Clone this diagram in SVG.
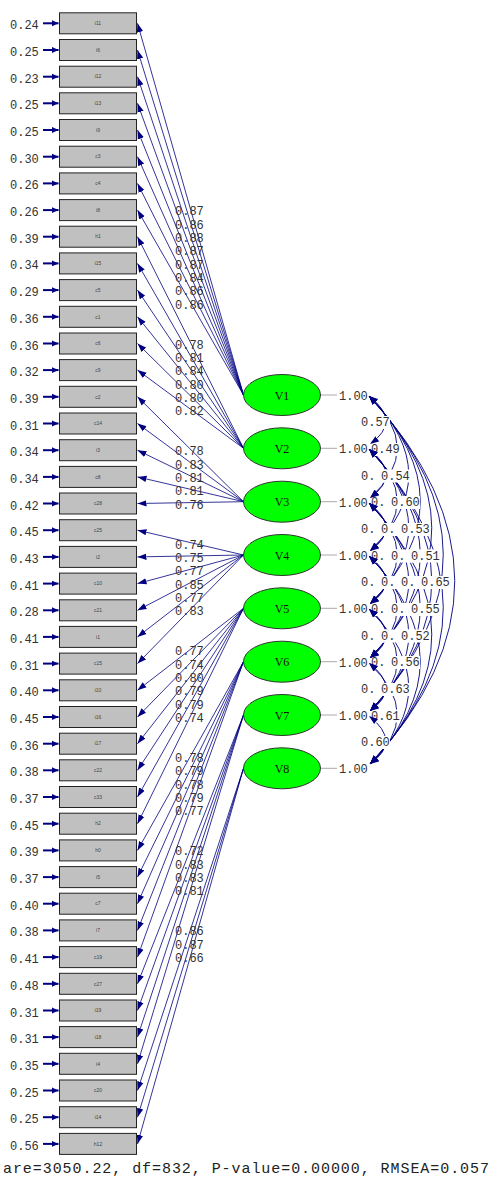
<svg xmlns="http://www.w3.org/2000/svg" xmlns:xlink="http://www.w3.org/1999/xlink" width="492" height="1178" viewBox="0 0 492 1178">
<style>
.box{fill:#c0c0c0;stroke:#222;stroke-width:1}
.bt{font-family:"Liberation Sans",sans-serif;font-size:5px;fill:#444;text-anchor:middle}
.num{font-family:"Liberation Mono","DejaVu Sans Mono",monospace;font-size:12px;fill:#333}
.ld{stroke:#000080;stroke-width:0.8;fill:none;marker-end:url(#ah)}
.er{stroke:#000080;stroke-width:2;fill:none;marker-end:url(#ahe)}
.ell{fill:#00ff00;stroke:#333;stroke-width:1}
.vt{font-family:"Liberation Serif",serif;font-size:12px;fill:#111;text-anchor:middle}
.arc{fill:none;stroke:#000080;stroke-width:0.9}
.heads{fill:none;stroke:none;marker-start:url(#ah2);marker-end:url(#ah2)}
.bg{fill:#fff}
.gl{stroke:#aaa;stroke-width:1}
</style>
<defs>
<marker id="ah" markerWidth="10" markerHeight="8" refX="9" refY="4" orient="auto" markerUnits="userSpaceOnUse"><path d="M0,0.8 L9,4 L0,7.2 z" fill="#000080"/></marker>
<marker id="ahe" markerWidth="8" markerHeight="8" refX="7" refY="4" orient="auto" markerUnits="userSpaceOnUse"><path d="M0,0.8 L7,4 L0,7.2 z" fill="#000080"/></marker>
<marker id="ah2" markerWidth="10" markerHeight="8" refX="9" refY="4" orient="auto-start-reverse" markerUnits="userSpaceOnUse"><path d="M0,0.8 L9,4 L0,7.2 z" fill="#000080"/></marker>
<path id="c12" d="M369,396 Q402,421.5 370,444"/>
<path id="c23" d="M369,449 Q402,475 370,498"/>
<path id="c34" d="M369,503 Q402,528.5 370,551"/>
<path id="c45" d="M369,556 Q402,581.5 370,604"/>
<path id="c56" d="M369,609 Q402,635 370,658"/>
<path id="c67" d="M369,663 Q402,688.5 370,711"/>
<path id="c78" d="M369,716 Q402,741.5 370,764"/>
<path id="c13" d="M369,396 Q425,448.5 370,498"/>
<path id="c24" d="M369,449 Q425,501.5 370,551"/>
<path id="c35" d="M369,503 Q425,555 370,604"/>
<path id="c46" d="M369,556 Q425,608.5 370,658"/>
<path id="c57" d="M369,609 Q425,661.5 370,711"/>
<path id="c68" d="M369,663 Q425,715 370,764"/>
<path id="c14" d="M369,396 Q448,475 370,551"/>
<path id="c25" d="M369,449 Q448,528 370,604"/>
<path id="c36" d="M369,503 Q448,582 370,658"/>
<path id="c47" d="M369,556 Q448,635 370,711"/>
<path id="c58" d="M369,609 Q448,688 370,764"/>
<path id="c15" d="M369,396 Q471,501.5 370,604"/>
<path id="c26" d="M369,449 Q471,555 370,658"/>
<path id="c37" d="M369,503 Q471,608.5 370,711"/>
<path id="c48" d="M369,556 Q471,662 370,764"/>
<path id="c16" d="M369,396 Q494,528.5 370,658"/>
<path id="c27" d="M369,449 Q494,581.5 370,711"/>
<path id="c38" d="M369,503 Q494,635 370,764"/>
<path id="c17" d="M369,396 Q517,555 370,711"/>
<path id="c28" d="M369,449 Q517,608 370,764"/>
<path id="c18" d="M369,396 Q540,581.5 370,764"/>
</defs>
<rect width="492" height="1178" fill="#fff"/>

<g id="connectors">
<!-- V1 -->
<line class="ld" x1="243.5" y1="395" x2="137.5" y2="23.3"/>
<line class="ld" x1="243.5" y1="395" x2="137.5" y2="50"/>
<line class="ld" x1="243.5" y1="395" x2="137.5" y2="76.7"/>
<line class="ld" x1="243.5" y1="395" x2="137.5" y2="103.3"/>
<line class="ld" x1="243.5" y1="395" x2="137.5" y2="130"/>
<line class="ld" x1="243.5" y1="395" x2="137.5" y2="156.7"/>
<line class="ld" x1="243.5" y1="395" x2="137.5" y2="183.4"/>
<line class="ld" x1="243.5" y1="395" x2="137.5" y2="210.1"/>
<!-- V2 -->
<line class="ld" x1="243.5" y1="448.3" x2="137.5" y2="236.7"/>
<line class="ld" x1="243.5" y1="448.3" x2="137.5" y2="263.4"/>
<line class="ld" x1="243.5" y1="448.3" x2="137.5" y2="290.1"/>
<line class="ld" x1="243.5" y1="448.3" x2="137.5" y2="316.8"/>
<line class="ld" x1="243.5" y1="448.3" x2="137.5" y2="343.5"/>
<line class="ld" x1="243.5" y1="448.3" x2="137.5" y2="370.1"/>
<!-- V3 -->
<line class="ld" x1="243.5" y1="501.7" x2="137.5" y2="396.8"/>
<line class="ld" x1="243.5" y1="501.7" x2="137.5" y2="423.5"/>
<line class="ld" x1="243.5" y1="501.7" x2="137.5" y2="450.2"/>
<line class="ld" x1="243.5" y1="501.7" x2="137.5" y2="476.9"/>
<line class="ld" x1="243.5" y1="501.7" x2="137.5" y2="503.5"/>
<!-- V4 -->
<line class="ld" x1="243.5" y1="555" x2="137.5" y2="530.2"/>
<line class="ld" x1="243.5" y1="555" x2="137.5" y2="556.9"/>
<line class="ld" x1="243.5" y1="555" x2="137.5" y2="583.6"/>
<line class="ld" x1="243.5" y1="555" x2="137.5" y2="610.3"/>
<line class="ld" x1="243.5" y1="555" x2="137.5" y2="636.9"/>
<line class="ld" x1="243.5" y1="555" x2="137.5" y2="663.6"/>
<!-- V5 -->
<line class="ld" x1="243.5" y1="608.3" x2="137.5" y2="690.3"/>
<line class="ld" x1="243.5" y1="608.3" x2="137.5" y2="717"/>
<line class="ld" x1="243.5" y1="608.3" x2="137.5" y2="743.7"/>
<line class="ld" x1="243.5" y1="608.3" x2="137.5" y2="770.3"/>
<line class="ld" x1="243.5" y1="608.3" x2="137.5" y2="797"/>
<line class="ld" x1="243.5" y1="608.3" x2="137.5" y2="823.7"/>
<!-- V6 -->
<line class="ld" x1="243.5" y1="661.7" x2="137.5" y2="850.4"/>
<line class="ld" x1="243.5" y1="661.7" x2="137.5" y2="877.1"/>
<line class="ld" x1="243.5" y1="661.7" x2="137.5" y2="903.7"/>
<line class="ld" x1="243.5" y1="661.7" x2="137.5" y2="930.4"/>
<line class="ld" x1="243.5" y1="661.7" x2="137.5" y2="957.1"/>
<!-- V7 -->
<line class="ld" x1="243.5" y1="715" x2="137.5" y2="983.8"/>
<line class="ld" x1="243.5" y1="715" x2="137.5" y2="1010.5"/>
<line class="ld" x1="243.5" y1="715" x2="137.5" y2="1037.1"/>
<line class="ld" x1="243.5" y1="715" x2="137.5" y2="1063.8"/>
<!-- V8 -->
<line class="ld" x1="243.5" y1="768.3" x2="137.5" y2="1090.5"/>
<line class="ld" x1="243.5" y1="768.3" x2="137.5" y2="1117.2"/>
<line class="ld" x1="243.5" y1="768.3" x2="137.5" y2="1143.9"/>
<!-- error arrows -->
<line class="er" x1="43" y1="23.3" x2="58.5" y2="23.3"/>
<line class="er" x1="43" y1="50" x2="58.5" y2="50"/>
<line class="er" x1="43" y1="76.7" x2="58.5" y2="76.7"/>
<line class="er" x1="43" y1="103.3" x2="58.5" y2="103.3"/>
<line class="er" x1="43" y1="130" x2="58.5" y2="130"/>
<line class="er" x1="43" y1="156.7" x2="58.5" y2="156.7"/>
<line class="er" x1="43" y1="183.4" x2="58.5" y2="183.4"/>
<line class="er" x1="43" y1="210.1" x2="58.5" y2="210.1"/>
<line class="er" x1="43" y1="236.7" x2="58.5" y2="236.7"/>
<line class="er" x1="43" y1="263.4" x2="58.5" y2="263.4"/>
<line class="er" x1="43" y1="290.1" x2="58.5" y2="290.1"/>
<line class="er" x1="43" y1="316.8" x2="58.5" y2="316.8"/>
<line class="er" x1="43" y1="343.5" x2="58.5" y2="343.5"/>
<line class="er" x1="43" y1="370.1" x2="58.5" y2="370.1"/>
<line class="er" x1="43" y1="396.8" x2="58.5" y2="396.8"/>
<line class="er" x1="43" y1="423.5" x2="58.5" y2="423.5"/>
<line class="er" x1="43" y1="450.2" x2="58.5" y2="450.2"/>
<line class="er" x1="43" y1="476.9" x2="58.5" y2="476.9"/>
<line class="er" x1="43" y1="503.5" x2="58.5" y2="503.5"/>
<line class="er" x1="43" y1="530.2" x2="58.5" y2="530.2"/>
<line class="er" x1="43" y1="556.9" x2="58.5" y2="556.9"/>
<line class="er" x1="43" y1="583.6" x2="58.5" y2="583.6"/>
<line class="er" x1="43" y1="610.3" x2="58.5" y2="610.3"/>
<line class="er" x1="43" y1="636.9" x2="58.5" y2="636.9"/>
<line class="er" x1="43" y1="663.6" x2="58.5" y2="663.6"/>
<line class="er" x1="43" y1="690.3" x2="58.5" y2="690.3"/>
<line class="er" x1="43" y1="717" x2="58.5" y2="717"/>
<line class="er" x1="43" y1="743.7" x2="58.5" y2="743.7"/>
<line class="er" x1="43" y1="770.3" x2="58.5" y2="770.3"/>
<line class="er" x1="43" y1="797" x2="58.5" y2="797"/>
<line class="er" x1="43" y1="823.7" x2="58.5" y2="823.7"/>
<line class="er" x1="43" y1="850.4" x2="58.5" y2="850.4"/>
<line class="er" x1="43" y1="877.1" x2="58.5" y2="877.1"/>
<line class="er" x1="43" y1="903.7" x2="58.5" y2="903.7"/>
<line class="er" x1="43" y1="930.4" x2="58.5" y2="930.4"/>
<line class="er" x1="43" y1="957.1" x2="58.5" y2="957.1"/>
<line class="er" x1="43" y1="983.8" x2="58.5" y2="983.8"/>
<line class="er" x1="43" y1="1010.5" x2="58.5" y2="1010.5"/>
<line class="er" x1="43" y1="1037.1" x2="58.5" y2="1037.1"/>
<line class="er" x1="43" y1="1063.8" x2="58.5" y2="1063.8"/>
<line class="er" x1="43" y1="1090.5" x2="58.5" y2="1090.5"/>
<line class="er" x1="43" y1="1117.2" x2="58.5" y2="1117.2"/>
<line class="er" x1="43" y1="1143.9" x2="58.5" y2="1143.9"/>
<!-- variance lines -->
<line class="gl" x1="320" y1="395" x2="337" y2="395"/>
<line class="gl" x1="320" y1="448.3" x2="337" y2="448.3"/>
<line class="gl" x1="320" y1="501.7" x2="337" y2="501.7"/>
<line class="gl" x1="320" y1="555" x2="337" y2="555"/>
<line class="gl" x1="320" y1="608.3" x2="337" y2="608.3"/>
<line class="gl" x1="320" y1="661.7" x2="337" y2="661.7"/>
<line class="gl" x1="320" y1="715" x2="337" y2="715"/>
<line class="gl" x1="320" y1="768.3" x2="337" y2="768.3"/>
<!-- correlation arcs -->
<g class="arc">
<use xlink:href="#c12"/><use xlink:href="#c23"/><use xlink:href="#c34"/><use xlink:href="#c45"/><use xlink:href="#c56"/><use xlink:href="#c67"/><use xlink:href="#c78"/>
<use xlink:href="#c13"/><use xlink:href="#c24"/><use xlink:href="#c35"/><use xlink:href="#c46"/><use xlink:href="#c57"/><use xlink:href="#c68"/>
<use xlink:href="#c14"/><use xlink:href="#c25"/><use xlink:href="#c36"/><use xlink:href="#c47"/><use xlink:href="#c58"/>
<use xlink:href="#c15"/><use xlink:href="#c26"/><use xlink:href="#c37"/><use xlink:href="#c48"/>
<use xlink:href="#c16"/><use xlink:href="#c27"/><use xlink:href="#c38"/>
<use xlink:href="#c17"/><use xlink:href="#c28"/>
<use xlink:href="#c18"/>
</g>
</g>

<g id="loading-labels" class="num">
<text x="175" y="215">0.87</text><text x="175" y="228.5">0.86</text><text x="175" y="242">0.88</text><text x="175" y="255">0.87</text><text x="175" y="268.5">0.87</text><text x="175" y="282">0.84</text><text x="175" y="295">0.86</text><text x="175" y="308.5">0.86</text>
<text x="175" y="348.5">0.78</text><text x="175" y="362">0.81</text><text x="175" y="375">0.84</text><text x="175" y="388.5">0.80</text><text x="175" y="402">0.80</text><text x="175" y="415">0.82</text>
<text x="175" y="455.3">0.78</text><text x="175" y="468.6">0.83</text><text x="175" y="482">0.81</text><text x="175" y="495.3">0.81</text><text x="175" y="508.6">0.76</text>
<text x="175" y="548.6">0.74</text><text x="175" y="562">0.75</text><text x="175" y="575.3">0.77</text><text x="175" y="588.7">0.85</text><text x="175" y="602">0.77</text><text x="175" y="615.3">0.83</text>
<text x="175" y="655.3">0.77</text><text x="175" y="668.7">0.74</text><text x="175" y="682">0.80</text><text x="175" y="695.3">0.79</text><text x="175" y="708.7">0.79</text><text x="175" y="722">0.74</text>
<text x="175" y="762">0.78</text><text x="175" y="775.4">0.79</text><text x="175" y="788.7">0.78</text><text x="175" y="802">0.79</text><text x="175" y="815.4">0.77</text>
<text x="175" y="855.4">0.72</text><text x="175" y="868.7">0.83</text><text x="175" y="882">0.83</text><text x="175" y="895.4">0.81</text>
<text x="175" y="935.4">0.86</text><text x="175" y="948.7">0.87</text><text x="175" y="962.1">0.66</text>
</g>

<g id="error-labels" class="num">
<text x="10" y="29.3">0.24</text><text x="10" y="56">0.25</text><text x="10" y="82.7">0.23</text><text x="10" y="109.3">0.25</text><text x="10" y="136">0.25</text><text x="10" y="162.7">0.30</text><text x="10" y="189.4">0.26</text><text x="10" y="216.1">0.26</text><text x="10" y="242.7">0.39</text><text x="10" y="269.4">0.34</text><text x="10" y="296.1">0.29</text><text x="10" y="322.8">0.36</text><text x="10" y="349.5">0.36</text><text x="10" y="376.1">0.32</text><text x="10" y="402.8">0.39</text><text x="10" y="429.5">0.31</text><text x="10" y="456.2">0.34</text><text x="10" y="482.9">0.34</text><text x="10" y="509.5">0.42</text><text x="10" y="536.2">0.45</text><text x="10" y="562.9">0.43</text><text x="10" y="589.6">0.41</text><text x="10" y="616.3">0.28</text><text x="10" y="642.9">0.41</text><text x="10" y="669.6">0.31</text><text x="10" y="696.3">0.40</text><text x="10" y="723">0.45</text><text x="10" y="749.7">0.36</text><text x="10" y="776.3">0.38</text><text x="10" y="803">0.37</text><text x="10" y="829.7">0.45</text><text x="10" y="856.4">0.39</text><text x="10" y="883.1">0.37</text><text x="10" y="909.7">0.40</text><text x="10" y="936.4">0.38</text><text x="10" y="963.1">0.41</text><text x="10" y="989.8">0.48</text><text x="10" y="1016.5">0.31</text><text x="10" y="1043.1">0.31</text><text x="10" y="1069.8">0.35</text><text x="10" y="1096.5">0.25</text><text x="10" y="1123.2">0.25</text><text x="10" y="1149.9">0.56</text>
</g>

<g id="indicators">
<g id="b0"><rect class="box" x="59.5" y="12.8" width="77" height="21"/><text class="bt" x="98" y="25">i11</text></g>
<g id="b1"><rect class="box" x="59.5" y="39.5" width="77" height="21"/><text class="bt" x="98" y="51.7">i6</text></g>
<g id="b2"><rect class="box" x="59.5" y="66.2" width="77" height="21"/><text class="bt" x="98" y="78.4">i12</text></g>
<g id="b3"><rect class="box" x="59.5" y="92.8" width="77" height="21"/><text class="bt" x="98" y="105">i13</text></g>
<g id="b4"><rect class="box" x="59.5" y="119.5" width="77" height="21"/><text class="bt" x="98" y="131.7">i9</text></g>
<g id="b5"><rect class="box" x="59.5" y="146.2" width="77" height="21"/><text class="bt" x="98" y="158.4">c3</text></g>
<g id="b6"><rect class="box" x="59.5" y="172.9" width="77" height="21"/><text class="bt" x="98" y="185.1">c4</text></g>
<g id="b7"><rect class="box" x="59.5" y="199.6" width="77" height="21"/><text class="bt" x="98" y="211.8">i8</text></g>
<g id="b8"><rect class="box" x="59.5" y="226.2" width="77" height="21"/><text class="bt" x="98" y="238.4">h1</text></g>
<g id="b9"><rect class="box" x="59.5" y="252.9" width="77" height="21"/><text class="bt" x="98" y="265.1">i15</text></g>
<g id="b10"><rect class="box" x="59.5" y="279.6" width="77" height="21"/><text class="bt" x="98" y="291.8">c5</text></g>
<g id="b11"><rect class="box" x="59.5" y="306.3" width="77" height="21"/><text class="bt" x="98" y="318.5">c1</text></g>
<g id="b12"><rect class="box" x="59.5" y="333" width="77" height="21"/><text class="bt" x="98" y="345.2">c6</text></g>
<g id="b13"><rect class="box" x="59.5" y="359.6" width="77" height="21"/><text class="bt" x="98" y="371.8">c9</text></g>
<g id="b14"><rect class="box" x="59.5" y="386.3" width="77" height="21"/><text class="bt" x="98" y="398.5">c2</text></g>
<g id="b15"><rect class="box" x="59.5" y="413" width="77" height="21"/><text class="bt" x="98" y="425.2">c14</text></g>
<g id="b16"><rect class="box" x="59.5" y="439.7" width="77" height="21"/><text class="bt" x="98" y="451.9">i3</text></g>
<g id="b17"><rect class="box" x="59.5" y="466.4" width="77" height="21"/><text class="bt" x="98" y="478.6">c8</text></g>
<g id="b18"><rect class="box" x="59.5" y="493" width="77" height="21"/><text class="bt" x="98" y="505.2">c28</text></g>
<g id="b19"><rect class="box" x="59.5" y="519.7" width="77" height="21"/><text class="bt" x="98" y="531.9">c25</text></g>
<g id="b20"><rect class="box" x="59.5" y="546.4" width="77" height="21"/><text class="bt" x="98" y="558.6">i2</text></g>
<g id="b21"><rect class="box" x="59.5" y="573.1" width="77" height="21"/><text class="bt" x="98" y="585.3">c10</text></g>
<g id="b22"><rect class="box" x="59.5" y="599.8" width="77" height="21"/><text class="bt" x="98" y="612">c21</text></g>
<g id="b23"><rect class="box" x="59.5" y="626.4" width="77" height="21"/><text class="bt" x="98" y="638.6">i1</text></g>
<g id="b24"><rect class="box" x="59.5" y="653.1" width="77" height="21"/><text class="bt" x="98" y="665.3">c15</text></g>
<g id="b25"><rect class="box" x="59.5" y="679.8" width="77" height="21"/><text class="bt" x="98" y="692">i10</text></g>
<g id="b26"><rect class="box" x="59.5" y="706.5" width="77" height="21"/><text class="bt" x="98" y="718.7">i16</text></g>
<g id="b27"><rect class="box" x="59.5" y="733.2" width="77" height="21"/><text class="bt" x="98" y="745.4">i17</text></g>
<g id="b28"><rect class="box" x="59.5" y="759.8" width="77" height="21"/><text class="bt" x="98" y="772">c22</text></g>
<g id="b29"><rect class="box" x="59.5" y="786.5" width="77" height="21"/><text class="bt" x="98" y="798.7">c33</text></g>
<g id="b30"><rect class="box" x="59.5" y="813.2" width="77" height="21"/><text class="bt" x="98" y="825.4">h2</text></g>
<g id="b31"><rect class="box" x="59.5" y="839.9" width="77" height="21"/><text class="bt" x="98" y="852.1">h0</text></g>
<g id="b32"><rect class="box" x="59.5" y="866.6" width="77" height="21"/><text class="bt" x="98" y="878.8">i5</text></g>
<g id="b33"><rect class="box" x="59.5" y="893.2" width="77" height="21"/><text class="bt" x="98" y="905.4">c7</text></g>
<g id="b34"><rect class="box" x="59.5" y="919.9" width="77" height="21"/><text class="bt" x="98" y="932.1">i7</text></g>
<g id="b35"><rect class="box" x="59.5" y="946.6" width="77" height="21"/><text class="bt" x="98" y="958.8">c19</text></g>
<g id="b36"><rect class="box" x="59.5" y="973.3" width="77" height="21"/><text class="bt" x="98" y="985.5">c27</text></g>
<g id="b37"><rect class="box" x="59.5" y="1000" width="77" height="21"/><text class="bt" x="98" y="1012.2">i19</text></g>
<g id="b38"><rect class="box" x="59.5" y="1026.6" width="77" height="21"/><text class="bt" x="98" y="1038.8">i18</text></g>
<g id="b39"><rect class="box" x="59.5" y="1053.3" width="77" height="21"/><text class="bt" x="98" y="1065.5">i4</text></g>
<g id="b40"><rect class="box" x="59.5" y="1080" width="77" height="21"/><text class="bt" x="98" y="1092.2">c20</text></g>
<g id="b41"><rect class="box" x="59.5" y="1106.7" width="77" height="21"/><text class="bt" x="98" y="1118.9">i14</text></g>
<g id="b42"><rect class="box" x="59.5" y="1133.4" width="77" height="21"/><text class="bt" x="98" y="1145.6">h12</text></g>
</g>

<g id="factors">
<g id="V1"><ellipse class="ell" cx="282" cy="395" rx="38.5" ry="20.5"/><text class="vt" x="282" y="399.5">V1</text></g>
<g id="V2"><ellipse class="ell" cx="282" cy="448.3" rx="38.5" ry="20.5"/><text class="vt" x="282" y="452.8">V2</text></g>
<g id="V3"><ellipse class="ell" cx="282" cy="501.7" rx="38.5" ry="20.5"/><text class="vt" x="282" y="506.2">V3</text></g>
<g id="V4"><ellipse class="ell" cx="282" cy="555" rx="38.5" ry="20.5"/><text class="vt" x="282" y="559.5">V4</text></g>
<g id="V5"><ellipse class="ell" cx="282" cy="608.3" rx="38.5" ry="20.5"/><text class="vt" x="282" y="612.8">V5</text></g>
<g id="V6"><ellipse class="ell" cx="282" cy="661.7" rx="38.5" ry="20.5"/><text class="vt" x="282" y="666.2">V6</text></g>
<g id="V7"><ellipse class="ell" cx="282" cy="715" rx="38.5" ry="20.5"/><text class="vt" x="282" y="719.5">V7</text></g>
<g id="V8"><ellipse class="ell" cx="282" cy="768.3" rx="38.5" ry="20.5"/><text class="vt" x="282" y="772.8">V8</text></g>
</g>

<g id="variance-labels" class="num">
<text x="339" y="400">1.00</text><text x="339" y="453.3">1.00</text><text x="339" y="506.7">1.00</text><text x="339" y="560">1.00</text><text x="339" y="613.3">1.00</text><text x="339" y="666.7">1.00</text><text x="339" y="720">1.00</text><text x="339" y="773.3">1.00</text>
</g>

<g id="correlation-labels" class="num">
<rect class="bg" x="359" y="416" width="31" height="13"/><text x="361" y="426">0.57</text>
<rect class="bg" x="369" y="443" width="31" height="13"/><text x="371" y="453">0.49</text>
<rect class="bg" x="359" y="469.5" width="31" height="13"/><text x="361" y="479.5">0.</text>
<rect class="bg" x="379" y="469.5" width="31" height="13"/><text x="381" y="479.5">0.54</text>
<rect class="bg" x="369" y="496" width="31" height="13"/><text x="371" y="506">0.</text>
<rect class="bg" x="389" y="496" width="31" height="13"/><text x="391" y="506">0.60</text>
<rect class="bg" x="359" y="523" width="31" height="13"/><text x="361" y="533">0.</text>
<rect class="bg" x="379" y="523" width="31" height="13"/><text x="381" y="533">0.</text>
<rect class="bg" x="399" y="523" width="31" height="13"/><text x="401" y="533">0.53</text>
<rect class="bg" x="369" y="549.5" width="31" height="13"/><text x="371" y="559.5">0.</text>
<rect class="bg" x="389" y="549.5" width="31" height="13"/><text x="391" y="559.5">0.</text>
<rect class="bg" x="409" y="549.5" width="31" height="13"/><text x="411" y="559.5">0.51</text>
<rect class="bg" x="359" y="576" width="31" height="13"/><text x="361" y="586">0.</text>
<rect class="bg" x="379" y="576" width="31" height="13"/><text x="381" y="586">0.</text>
<rect class="bg" x="399" y="576" width="31" height="13"/><text x="401" y="586">0.</text>
<rect class="bg" x="419" y="576" width="31" height="13"/><text x="421" y="586">0.65</text>
<rect class="bg" x="369" y="603" width="31" height="13"/><text x="371" y="613">0.</text>
<rect class="bg" x="389" y="603" width="31" height="13"/><text x="391" y="613">0.</text>
<rect class="bg" x="409" y="603" width="31" height="13"/><text x="411" y="613">0.55</text>
<rect class="bg" x="359" y="629.5" width="31" height="13"/><text x="361" y="639.5">0.</text>
<rect class="bg" x="379" y="629.5" width="31" height="13"/><text x="381" y="639.5">0.</text>
<rect class="bg" x="399" y="629.5" width="31" height="13"/><text x="401" y="639.5">0.52</text>
<rect class="bg" x="369" y="656" width="31" height="13"/><text x="371" y="666">0.</text>
<rect class="bg" x="389" y="656" width="31" height="13"/><text x="391" y="666">0.56</text>
<rect class="bg" x="359" y="683" width="31" height="13"/><text x="361" y="693">0.</text>
<rect class="bg" x="379" y="683" width="31" height="13"/><text x="381" y="693">0.63</text>
<rect class="bg" x="369" y="709.5" width="31" height="13"/><text x="371" y="719.5">0.61</text>
<rect class="bg" x="359" y="736" width="31" height="13"/><text x="361" y="746">0.60</text>
</g>

<g id="correlation-heads" class="heads">
<use xlink:href="#c12"/><use xlink:href="#c23"/><use xlink:href="#c34"/><use xlink:href="#c45"/><use xlink:href="#c56"/><use xlink:href="#c67"/><use xlink:href="#c78"/>
<use xlink:href="#c13"/><use xlink:href="#c24"/><use xlink:href="#c35"/><use xlink:href="#c46"/><use xlink:href="#c57"/><use xlink:href="#c68"/>
<use xlink:href="#c14"/><use xlink:href="#c25"/><use xlink:href="#c36"/><use xlink:href="#c47"/><use xlink:href="#c58"/>
<use xlink:href="#c15"/><use xlink:href="#c26"/><use xlink:href="#c37"/><use xlink:href="#c48"/>
<use xlink:href="#c16"/><use xlink:href="#c27"/><use xlink:href="#c38"/>
<use xlink:href="#c17"/><use xlink:href="#c28"/>
<use xlink:href="#c18"/>
</g>

<text id="fit" x="3" y="1173" font-family="Liberation Mono, monospace" font-size="15" fill="#222" textLength="486" lengthAdjust="spacing">are=3050.22, df=832, P-value=0.00000, RMSEA=0.057</text>
</svg>
